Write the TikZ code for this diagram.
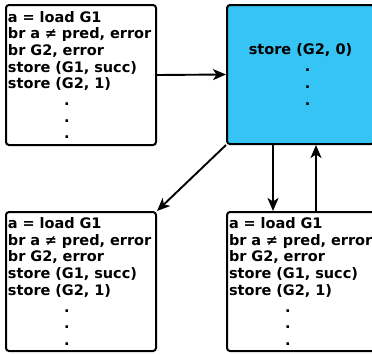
\documentclass[tikz,border=0pt]{standalone}
\usepackage{fontspec}
\setmainfont{DejaVu Sans}
\usetikzlibrary{arrows.meta}
\definecolor{hotblue}{HTML}{35C4F3}
\tikzset{
  block/.style={draw, line width=2pt, rounded corners=3pt, anchor=north west,
    minimum width=150pt, minimum height=140pt, inner xsep=2pt, text width=146pt,
    align=left, font=\bfseries\fontsize{14.5}{16.7}\selectfont},
  hotblock/.style={draw, line width=2pt, rounded corners=3pt, anchor=north west,
    fill=hotblue, minimum width=147pt, minimum height=139pt, align=left,
    font=\bfseries\fontsize{14.5}{16.7}\selectfont},
  flow/.style={-{Stealth[length=13pt,width=11pt,inset=3.5pt]}, line width=1.9pt},
}
\newcommand{\dotrows}{\hspace*{56pt}.\\\hspace*{56pt}.\\\hspace*{56pt}.}
\newcommand{\pathcode}{a = load G1\\br a ≠ pred, error\\br G2, error\\store (G1, succ)\\store (G2, 1)\\\dotrows}
\begin{document}
\begin{tikzpicture}[x=1pt, y=-1pt]
  \useasboundingbox (0,0) rectangle (372,354);
  % original path and failing path
  \node[block] (orig) at (5,4) {\pathcode};
  \node[hotblock] (fail) at (226,4) {store (G2, 0)\\\dotrows};
  % restarted copies
  \node[block, minimum height=139pt] (copyl) at (5,211) {\pathcode};
  \node[block, minimum width=147pt, minimum height=139pt] (copyr) at (226,211) {\pathcode};

  % edges
  \draw[flow] (orig.east) -- (fail.west);
  \draw[flow] (fail.south west) -- (copyl.north east);
  \draw[flow] ([xshift=47pt]fail.south west) -- ([xshift=47pt]copyr.north west);
  \draw[flow] ([xshift=90pt]copyr.north west) -- ([xshift=90pt]fail.south west);
\end{tikzpicture}
\end{document}
